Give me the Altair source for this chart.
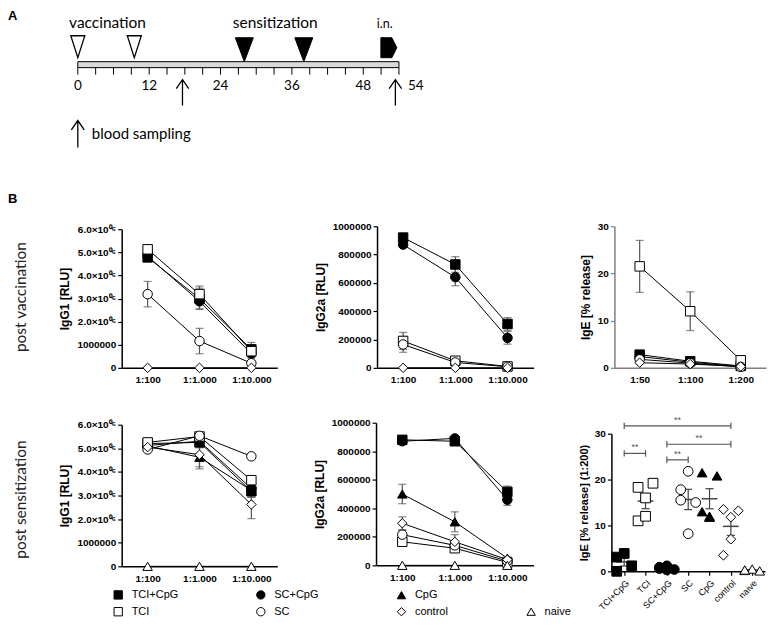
import json
import altair as alt
import pandas as pd
import numpy as np

# ---------------- Panel A: schedule (days) ----------------
tl_ticks = list(range(0, 55, 3))
tl_labels = [0, 12, 24, 36, 48]
tl_end = 54
vacc_days = [0, 9.5]
sens_days = [28, 38]
in_days = [52.3]
event_names = ["vaccination", "sensitization"]
event_days = [5.0, 33.2]
in_name = ["i.n."]
in_text_day = [51.6]
sampling_days = [17.6, 53.4]

# ---------------- Panel B ----------------
dil_igg = ["1:100", "1:1.000", "1:10.000"]
dil_ige = ["1:50", "1:100", "1:200"]

legend_order = ["TCI+CpG", "SC+CpG", "CpG", " ", "TCI", "SC", "control", "naive"]
shape_range = ["square", "circle", "triangle-up", "M0,0L0,0", "square", "circle", "diamond", "triangle-up"]
fill_range = ["black", "black", "black", "transparent", "white", "white", "white", "white"]
stroke_range = ["black", "black", "black", "transparent", "black", "black", "black", "black"]

# post vaccination IgG1 [RLU]
pv_igg1 = {
    "TCI+CpG": [4.78e6, 3.00e6, 0.80e6],
    "SC+CpG": [4.83e6, 2.88e6, 0.62e6],
    "TCI": [5.13e6, 3.19e6, 0.72e6],
    "SC": [3.19e6, 1.16e6, 0.20e6],
    "control": [0, 0, 0],
}
pv_igg1_sem = {
    "TCI+CpG": [0.10e6, 0.45e6, 0.30e6],
    "SC+CpG": [0.10e6, 0.35e6, 0.20e6],
    "TCI": [0.05e6, 0.35e6, 0.25e6],
    "SC": [0.55e6, 0.55e6, 0.06e6],
    "control": [0, 0, 0],
}
# post vaccination IgG2a [RLU]
pv_igg2a = {
    "TCI+CpG": [920000, 730000, 310000],
    "SC+CpG": [870000, 640000, 212000],
    "TCI": [190000, 50000, 10000],
    "SC": [165000, 38000, 8000],
    "control": [0, 0, 0],
}
pv_igg2a_sem = {
    "TCI+CpG": [15000, 55000, 45000],
    "SC+CpG": [15000, 60000, 45000],
    "TCI": [60000, 10000, 3000],
    "SC": [55000, 10000, 3000],
    "control": [0, 0, 0],
}
# post vaccination IgE [% release]
pv_ige = {
    "TCI+CpG": [2.8, 1.4, 0.4],
    "SC+CpG": [2.4, 1.2, 0.3],
    "TCI": [21.5, 12.0, 1.6],
    "SC": [1.8, 1.0, 0.2],
    "control": [1.1, 0.8, 0.3],
}
pv_ige_sem = {
    "TCI+CpG": [0.6, 0.3, 0.1],
    "SC+CpG": [0.4, 0.2, 0.1],
    "TCI": [5.5, 4.1, 0.4],
    "SC": [0.3, 0.2, 0.1],
    "control": [0.3, 0.2, 0.1],
}
# post sensitization IgG1 [RLU]
ps_igg1 = {
    "TCI+CpG": [5.20e6, 5.25e6, 3.18e6],
    "SC+CpG": [5.12e6, 5.30e6, 3.30e6],
    "CpG": [5.10e6, 4.62e6, 3.22e6],
    "TCI": [5.25e6, 5.50e6, 3.65e6],
    "SC": [4.95e6, 5.53e6, 4.66e6],
    "control": [5.05e6, 4.73e6, 2.62e6],
    "naive": [0, 0, 0],
}
ps_igg1_sem = {
    "TCI+CpG": [0.08e6, 0.15e6, 0.25e6],
    "SC+CpG": [0.08e6, 0.15e6, 0.25e6],
    "CpG": [0.10e6, 0.40e6, 0.30e6],
    "TCI": [0.05e6, 0.10e6, 0.15e6],
    "SC": [0.08e6, 0.08e6, 0.10e6],
    "control": [0.10e6, 0.60e6, 0.60e6],
    "naive": [0, 0, 0],
}
# post sensitization IgG2a [RLU]
ps_igg2a = {
    "TCI+CpG": [880000, 870000, 515000],
    "SC+CpG": [870000, 890000, 460000],
    "CpG": [500000, 305000, 50000],
    "TCI": [165000, 120000, 20000],
    "SC": [215000, 140000, 30000],
    "control": [295000, 165000, 40000],
    "naive": [0, 0, 0],
}
ps_igg2a_sem = {
    "TCI+CpG": [15000, 15000, 40000],
    "SC+CpG": [15000, 15000, 40000],
    "CpG": [68000, 70000, 10000],
    "TCI": [30000, 25000, 5000],
    "SC": [30000, 30000, 5000],
    "control": [45000, 50000, 8000],
    "naive": [0, 0, 0],
}
# post sensitization IgE [% release] (1:200), individual animals
cat_names = ["TCI+CpG", "TCI", "SC+CpG", "SC", "CpG", "control", "naive"]
ige_pts = {
    "TCI+CpG": [0.0, 3.9, 1.2, 3.1],
    "TCI": [18.3, 16.0, 19.2, 11.0, 12.0],
    "SC+CpG": [0.6, 1.2, 0.4, 0.9, 0.3],
    "SC": [15.5, 21.8, 15.0, 17.8, 8.2],
    "CpG": [21.5, 11.8, 20.8, 13.0, 12.0],
    "control": [13.5, 11.8, 13.2, 3.5, 7.0],
    "naive": [0.2, 0.5, 0.1, 0.3],
}
sig_from = ["TCI+CpG", "SC+CpG", "SC+CpG", "TCI+CpG"]
sig_to = ["TCI", "SC", "control", "control"]
sig_y = [25.7, 24.3, 27.7, 31.7]

# ---------------- styles ----------------
FONT = "Liberation Sans"
TFONT = "Lato"
LEG = alt.Legend(title=None, orient="none", legendX=-9, legendY=582, columns=4, direction="horizontal",
                 columnPadding=76, rowPadding=4, symbolSize=70, symbolStrokeWidth=1,
                 labelFont=FONT, labelFontSize=11, labelColor="black", labelOffset=8)
SHAPE = alt.Shape("group:N", scale=alt.Scale(domain=legend_order, range=shape_range), legend=LEG)
FILL = alt.Fill("group:N", scale=alt.Scale(domain=legend_order, range=fill_range), legend=LEG)
STROKE = alt.Stroke("group:N", scale=alt.Scale(domain=legend_order, range=stroke_range), legend=LEG)


def ax_kw(color="black"):
    return dict(labelFont=FONT, labelFontSize=10, labelFontWeight="bold", labelColor="black",
                titleFont=FONT, titleFontSize=12, titleFontWeight="bold", titleColor="black",
                domainColor=color, domainWidth=1.5, tickColor=color, tickWidth=1.2, grid=False)


def text_layer(txt, x, y, **kw):
    return alt.Chart(pd.DataFrame({"t": [txt]})).mark_text(**kw).encode(
        x=alt.value(x), y=alt.value(y), text="t:N")


def line_panel(vals, sems, dils, ytitle, ymax, yvals, label_expr, w, h, xr, yr, axcol="black", extra=()):
    rows = []
    for g, v in vals.items():
        for d, y, e in zip(dils, v, sems[g]):
            rows.append({"group": g, "dil": d, "y": y, "lo": y - e, "hi": y + e, "e": e})
    df = pd.DataFrame(rows)
    x = alt.X("dil:N", sort=dils, scale=alt.Scale(type="point", padding=0.5, range=xr),
              axis=alt.Axis(title=None, labelAngle=0, ticks=False, labelPadding=7, **ax_kw(axcol)))
    ysc = alt.Scale(domain=[0, ymax], nice=False, zero=True, range=yr)
    yax = alt.Axis(title=ytitle, values=yvals, labelExpr=label_expr, tickSize=4, labelPadding=2,
                   titlePadding=5, **ax_kw(axcol))
    base = alt.Chart(df)
    line = base.mark_line(color="black", strokeWidth=1).encode(
        x=x, y=alt.Y("y:Q", scale=ysc, axis=yax, title=ytitle), detail="group:N")
    eb = base.transform_filter("datum.e > 0")
    rule = eb.mark_rule(color="#555555", strokeWidth=1.2).encode(
        x=x, y=alt.Y("lo:Q", scale=ysc, axis=yax, title=ytitle), y2="hi:Q")
    cap_lo = eb.mark_tick(color="#555555", size=8, thickness=1.2).encode(
        x=x, y=alt.Y("lo:Q", scale=ysc, axis=yax, title=ytitle))
    cap_hi = eb.mark_tick(color="#555555", size=8, thickness=1.2).encode(
        x=x, y=alt.Y("hi:Q", scale=ysc, axis=yax, title=ytitle))
    pts = base.mark_point(filled=True, strokeWidth=1, opacity=1, size=90).encode(
        x=x, y=alt.Y("y:Q", scale=ysc, axis=yax, title=ytitle), shape=SHAPE, fill=FILL, stroke=STROKE)
    return alt.layer(line, rule, cap_lo, cap_hi, pts, *extra).properties(width=w, height=h)


SCI = ("datum.value == 0 ? '0' : datum.value == 1000000 ? '1000000' : "
       "format(datum.value / 1000000, '.1f') + '×10⁰⁶'")
INT = "format(datum.value, 'd')"

ROWKW = dict(font=TFONT, fontSize=15.5, color="#222222", angle=270, align="center", baseline="middle")
B_lab = text_layer("B", -114, -23, font=FONT, fontSize=13, fontWeight="bold", align="left",
                   baseline="alphabetic", color="black")
r1_lab = text_layer("post vaccination", -101, 71, **ROWKW)
r2_lab = text_layer("post sensitization", -101, 77, **ROWKW)

p1 = line_panel(pv_igg1, pv_igg1_sem, dil_igg, "IgG1 [RLU]", 6e6,
                [0, 1e6, 2e6, 3e6, 4e6, 5e6, 6e6], SCI, 175, 142, [0, 156], [142, 3],
                extra=(B_lab, r1_lab))
p2 = line_panel(pv_igg2a, pv_igg2a_sem, dil_igg, "IgG2a [RLU]", 1e6,
                [0, 2e5, 4e5, 6e5, 8e5, 1e6], INT, 157, 142, [0, 157], [142, 0])
p3 = line_panel(pv_ige, pv_ige_sem, dil_ige, "IgE [% release]", 30,
                [0, 10, 20, 30], INT, 152, 142, [0, 152], [142, 0], axcol="#7f7f7f")
p4 = line_panel(ps_igg1, ps_igg1_sem, dil_igg, "IgG1 [RLU]", 6e6,
                [0, 1e6, 2e6, 3e6, 4e6, 5e6, 6e6], SCI, 177, 144, [0, 156], [144, 2],
                extra=(r2_lab,))
p5 = line_panel(ps_igg2a, ps_igg2a_sem, dil_igg, "IgG2a [RLU]", 1e6,
                [0, 2e5, 4e5, 6e5, 8e5, 1e6], INT, 158, 143, [0, 158], [143, 0])

# ---- dot plot ----
rows = []
for i, g in enumerate(cat_names):
    for k, v in enumerate(ige_pts[g]):
        rows.append({"group": g, "idx": i, "pos": i + 0.35 * ((k % 3) - 1), "v": v})
dots = pd.DataFrame(rows)
stats = dots.groupby("idx").agg(mean=("v", "mean"), std=("v", "std"), n=("v", "count")).reset_index()
stats["sem"] = stats["std"] / np.sqrt(stats["n"])
stats["lo"] = stats["mean"] - stats["sem"]
stats["hi"] = stats["mean"] + stats["sem"]
stats["ml"] = stats["idx"] - 0.37
stats["mr"] = stats["idx"] + 0.37
stats["cl"] = stats["idx"] - 0.19
stats["cr"] = stats["idx"] + 0.19

sig = pd.DataFrame({"a": [cat_names.index(s) for s in sig_from],
                    "b": [cat_names.index(s) for s in sig_to], "y": sig_y})
sig["mid"] = (sig["a"] + sig["b"]) / 2
sig["y0"] = sig["y"] - 0.7
sig["y1"] = sig["y"] + 0.7
sig["star"] = "**"

dx_sc = alt.Scale(domain=[-0.6, 6.6], nice=False, zero=False)
dy_sc = alt.Scale(domain=[0, 30], nice=False, range=[149, 11])
dx_ax = alt.Axis(title=None, values=list(range(len(cat_names))),
                 labelExpr=json.dumps(cat_names) + "[datum.value]", labelAngle=-45, labelOverlap=False,
                 tickSize=4, labelPadding=3, **{**ax_kw(), "labelFontSize": 9, "labelFontWeight": "normal"})
dy_ax = alt.Axis(title="IgE [% release] (1:200)", values=[0, 10, 20, 30], tickSize=4, labelPadding=2,
                 titlePadding=5, **{**ax_kw(), "titleFontSize": 11})


def DX(f):
    return alt.X(f, type="quantitative", scale=dx_sc, axis=dx_ax)


def DY(f):
    return alt.Y(f, type="quantitative", scale=dy_sc, axis=dy_ax, title="IgE [% release] (1:200)")


d_pts = alt.Chart(dots).mark_point(filled=True, strokeWidth=1, opacity=1, size=95).encode(
    x=DX("pos"), y=DY("v"), shape=SHAPE, fill=FILL, stroke=STROKE)
s_base = alt.Chart(stats)
d_mean = s_base.mark_rule(color="#444444", strokeWidth=1.5).encode(x=DX("ml"), x2="mr:Q", y=DY("mean"))
d_sem = s_base.mark_rule(color="#444444", strokeWidth=1.2).encode(x=DX("idx"), y=DY("lo"), y2="hi:Q")
d_clo = s_base.mark_rule(color="#444444", strokeWidth=1.2).encode(x=DX("cl"), x2="cr:Q", y=DY("lo"))
d_chi = s_base.mark_rule(color="#444444", strokeWidth=1.2).encode(x=DX("cl"), x2="cr:Q", y=DY("hi"))
g_base = alt.Chart(sig)
b_line = g_base.mark_rule(color="#555555", strokeWidth=1.2).encode(x=DX("a"), x2="b:Q", y=DY("y"))
b_l = g_base.mark_rule(color="#555555", strokeWidth=1.2).encode(x=DX("a"), y=DY("y0"), y2="y1:Q")
b_r = g_base.mark_rule(color="#555555", strokeWidth=1.2).encode(x=DX("b"), y=DY("y0"), y2="y1:Q")
b_t = g_base.mark_text(color="#555555", fontSize=9, font=FONT, baseline="bottom", dy=-1).encode(
    x=DX("mid"), y=DY("y"), text="star:N")
p6 = alt.layer(d_mean, d_sem, d_clo, d_chi, b_line, b_l, b_r, b_t, d_pts).properties(width=154, height=149)

# ---------------- timeline chart ----------------
tl_x = alt.Scale(domain=[7.38, 59.37], nice=False, zero=False)


def TX(f):
    return alt.X(f, type="quantitative", scale=tl_x, axis=None)


TRI_OPEN = "M-0.64,-1L0.64,-1L0,1Z"
TRI_FULL = "M-0.75,-1L0.75,-1L0,1Z"
PENTA = "M-0.8,-1L0.3,-1L0.8,0L0.3,1L-0.8,1Z"
ARROW = "M0,1L0,-1M-0.48,-0.3L0,-1L0.48,-0.3"

t_bar = alt.Chart(pd.DataFrame({"start": [0], "end": [tl_end]})).mark_rect(
    fill="#d9d9d9", stroke="black", strokeWidth=1).encode(
    x=TX("start"), x2="end:Q", y=alt.value(53), y2=alt.value(59))
t_ticks = alt.Chart(pd.DataFrame({"day": tl_ticks})).mark_rule(color="black", strokeWidth=1).encode(
    x=TX("day"), y=alt.value(59), y2=alt.value(66))
t_lab = alt.Chart(pd.DataFrame({"day": tl_labels})).mark_text(
    font=TFONT, fontSize=13.5, baseline="middle", color="black").encode(
    x=TX("day"), y=alt.value(77), text="day:Q")
t_lab54 = alt.Chart(pd.DataFrame({"day": [tl_end]})).mark_text(
    font=TFONT, fontSize=13.5, baseline="middle", align="left", dx=9, color="black").encode(
    x=TX("day"), y=alt.value(77), text="day:Q")
t_vacc = alt.Chart(pd.DataFrame({"day": vacc_days})).mark_point(
    shape=TRI_OPEN, size=484, filled=True, fill="white", stroke="black", strokeWidth=1.3, opacity=1).encode(
    x=TX("day"), y=alt.value(38))
t_sens = alt.Chart(pd.DataFrame({"day": sens_days})).mark_point(
    shape=TRI_FULL, size=576, filled=True, fill="black", stroke="black", strokeWidth=1, opacity=1).encode(
    x=TX("day"), y=alt.value(41))
t_in = alt.Chart(pd.DataFrame({"day": in_days})).mark_point(
    shape=PENTA, size=400, filled=True, fill="black", stroke="black", strokeWidth=1, opacity=1).encode(
    x=TX("day"), y=alt.value(39))
t_ev = alt.Chart(pd.DataFrame({"day": event_days, "name": event_names})).mark_text(
    font=TFONT, fontSize=15.5, baseline="alphabetic", color="black").encode(
    x=TX("day"), y=alt.value(19), text="name:N")
t_in_txt = alt.Chart(pd.DataFrame({"day": in_text_day, "name": in_name})).mark_text(
    font=TFONT, fontSize=12.5, baseline="alphabetic", color="black").encode(
    x=TX("day"), y=alt.value(19), text="name:N")
t_arr = alt.Chart(pd.DataFrame({"day": sampling_days})).mark_point(
    shape=ARROW, size=676, filled=False, stroke="black", strokeWidth=1.3, opacity=1).encode(
    x=TX("day"), y=alt.value(84))
t_key_arr = alt.Chart(pd.DataFrame({"day": [0]})).mark_point(
    shape=ARROW, size=729, filled=False, stroke="black", strokeWidth=1.3, opacity=1).encode(
    x=TX("day"), y=alt.value(125.5))
t_key_txt = alt.Chart(pd.DataFrame({"day": [0], "name": ["blood sampling"]})).mark_text(
    font=TFONT, fontSize=15, baseline="alphabetic", align="left", dx=14, color="black").encode(
    x=TX("day"), y=alt.value(131), text="name:N")
t_A = text_layer("A", -114, 11, font=FONT, fontSize=13, fontWeight="bold", align="left",
                 baseline="alphabetic", color="black")

timeline = alt.layer(t_bar, t_ticks, t_lab, t_lab54, t_vacc, t_sens, t_in, t_ev, t_in_txt,
                     t_arr, t_key_arr, t_key_txt, t_A).properties(width=310, height=142)

# ---------------- assembly ----------------
row1 = alt.hconcat(p1, p2, p3, spacing=81, bounds="flush")
row2 = alt.hconcat(p4, p5, p6, spacing=78, bounds="flush")
rows_b = alt.vconcat(row1, row2, spacing=31)

chart = alt.vconcat(timeline, rows_b, spacing=43).properties(padding=0).configure_view(stroke=None)

chart.save("out.html", embed_options={"renderer": "svg", "actions": False})
